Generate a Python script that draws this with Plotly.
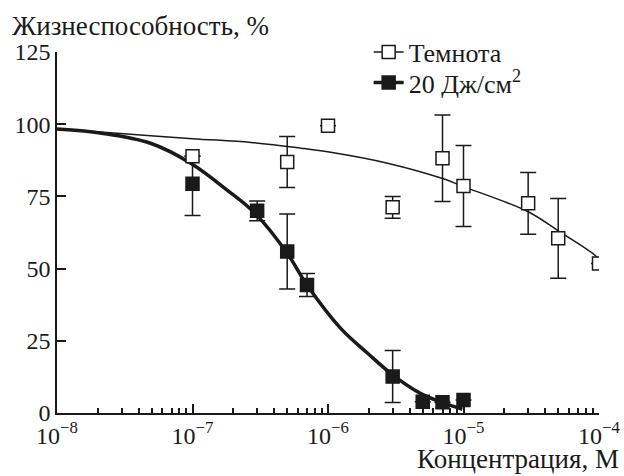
import plotly.graph_objects as go

# ---- data ----
dark_x = [1e-7, 5e-7, 1e-6, 3e-6, 7e-6, 1e-5, 3e-5, 5e-5, 1e-4]
dark_y = [88.9, 86.9, 99.5, 71.2, 88.2, 78.6, 72.6, 60.5, 51.8]
dark_err = [None, 8.8, None, 3.8, 15.0, 14.0, 10.7, 13.8, None]

light_x = [1e-7, 3e-7, 5e-7, 7e-7, 3e-6, 5e-6, 7e-6, 1e-5]
light_y = [79.4, 70.0, 55.9, 44.3, 12.6, 3.9, 3.7, 4.5]
light_err_plus = [9.5, 3.4, 13.0, 4.0, 9.0, None, None, None]
light_err_minus = [11.0, 3.4, 13.0, 4.0, 9.0, None, None, None]

# fitted curves
dark_fit_x = [1e-8, 2.2e-8, 1e-7, 2.7e-7, 6.3e-7, 1.1e-6, 2.75e-6, 7.2e-6, 1e-5, 3e-5, 5e-5, 9.2e-5, 1e-4]
dark_fit_y = [98.3, 97.2, 95.0, 93.7, 91.7, 90.1, 86.5, 81.0, 78.4, 69.7, 63.1, 54.9, 53.0]

light_fit_x = [1e-8, 2.2e-8, 4.9e-8, 9.7e-8, 1.8e-7, 2.9e-7, 5e-7, 7e-7, 1.24e-6, 1.96e-6, 3e-6, 4.8e-6, 7.2e-6, 9.8e-6]
light_fit_y = [98.3, 96.8, 93.4, 86.5, 77.2, 69.1, 55.3, 44.3, 29.3, 20.7, 13.2, 6.8, 3.4, 1.3]

x_tickvals = [1e-8, 1e-7, 1e-6, 1e-5, 1e-4]
x_ticktext = ["10<sup>−8</sup>", "10<sup>−7</sup>", "10<sup>−6</sup>", "10<sup>−5</sup>", "10<sup>−4</sup>"]
x_minor = [m * 10.0 ** e for e in (-8, -7, -6, -5) for m in range(2, 10)]
y_tickvals = [0, 25, 50, 75, 100, 125]

series_names = ["Темнота", "20 Дж/см<sup>2</sup>"]
y_title = "Жизнеспособность, %"
x_title = "Концентрация, М"

INK = "#1a1a1a"
FONT = "Liberation Serif, Times New Roman, serif"
TICK_SIZE = 24
LEGEND_SIZE = 26

fig = go.Figure()

fig.add_trace(go.Scatter(x=dark_fit_x, y=dark_fit_y, mode="lines",
                         line=dict(color=INK, width=1.5, shape="spline", smoothing=1.0),
                         showlegend=False, hoverinfo="skip"))
fig.add_trace(go.Scatter(x=light_fit_x, y=light_fit_y, mode="lines",
                         line=dict(color=INK, width=3.5, shape="spline", smoothing=1.0),
                         showlegend=False, hoverinfo="skip"))

fig.add_trace(go.Scatter(x=light_x, y=light_y, mode="markers",
                         error_y=dict(type="data", symmetric=False, array=light_err_plus,
                                      arrayminus=light_err_minus, color=INK, thickness=1.5, width=8),
                         marker=dict(symbol="square", size=13, color=INK, line=dict(color=INK, width=1.5)),
                         showlegend=False))
fig.add_trace(go.Scatter(x=dark_x, y=dark_y, mode="markers",
                         error_y=dict(type="data", array=dark_err, color=INK, thickness=1.5, width=8),
                         marker=dict(symbol="square", size=13, color="white", line=dict(color=INK, width=1.5)),
                         showlegend=False))

# legend entries (one legend box per row so each row can be placed like the reference)
fig.add_trace(go.Scatter(x=[None], y=[None], mode="lines+markers", name=series_names[0],
                         line=dict(color=INK, width=1.5), legend="legend",
                         marker=dict(symbol="square", size=13, color="white", line=dict(color=INK, width=1.5))))
fig.add_trace(go.Scatter(x=[None], y=[None], mode="lines+markers", name=series_names[1],
                         line=dict(color=INK, width=3.5), legend="legend2",
                         marker=dict(symbol="square", size=13, color=INK, line=dict(color=INK, width=1.5))))

legend_common = dict(x=0.575, xanchor="left", yanchor="middle", bgcolor="rgba(0,0,0,0)",
                     font=dict(family=FONT, size=LEGEND_SIZE), itemwidth=30)

fig.update_layout(
    width=624, height=476,
    margin=dict(l=57, r=25, t=52, b=63, autoexpand=False),
    paper_bgcolor="white", plot_bgcolor="white",
    font=dict(family=FONT, size=LEGEND_SIZE, color=INK),
    legend=dict(y=1.0, **legend_common),
    legend2=dict(y=0.915, **legend_common),
    xaxis=dict(type="log", range=[-8, -4], showgrid=False, zeroline=False, automargin=False,
               showline=True, linecolor=INK, linewidth=1.5,
               tickmode="array", tickvals=x_tickvals, ticktext=x_ticktext,
               tickfont=dict(family=FONT, size=TICK_SIZE),
               ticks="inside", ticklen=9, tickwidth=1.5, tickcolor=INK,
               minor=dict(tickmode="array", tickvals=x_minor, ticks="inside",
                          ticklen=5, tickwidth=1.5, tickcolor=INK, showgrid=False)),
    yaxis=dict(range=[0, 125], showgrid=False, zeroline=False, automargin=False,
               showline=True, linecolor=INK, linewidth=1.5,
               tickmode="array", tickvals=y_tickvals,
               tickfont=dict(family=FONT, size=TICK_SIZE),
               ticks="inside", ticklen=9, tickwidth=1.5, tickcolor=INK),
    annotations=[
        dict(text=y_title, xref="paper", yref="paper", x=0, y=1, xshift=-47, yshift=26,
             xanchor="left", yanchor="middle", showarrow=False, font=dict(family=FONT, size=27)),
        dict(text=x_title, xref="paper", yref="paper", x=1, y=0, xshift=22, yshift=-46,
             xanchor="right", yanchor="middle", showarrow=False, font=dict(family=FONT, size=27)),
    ],
)

fig.write_html("out.html", config={"displayModeBar": False},
               post_script="document.body.style.margin='0';")
